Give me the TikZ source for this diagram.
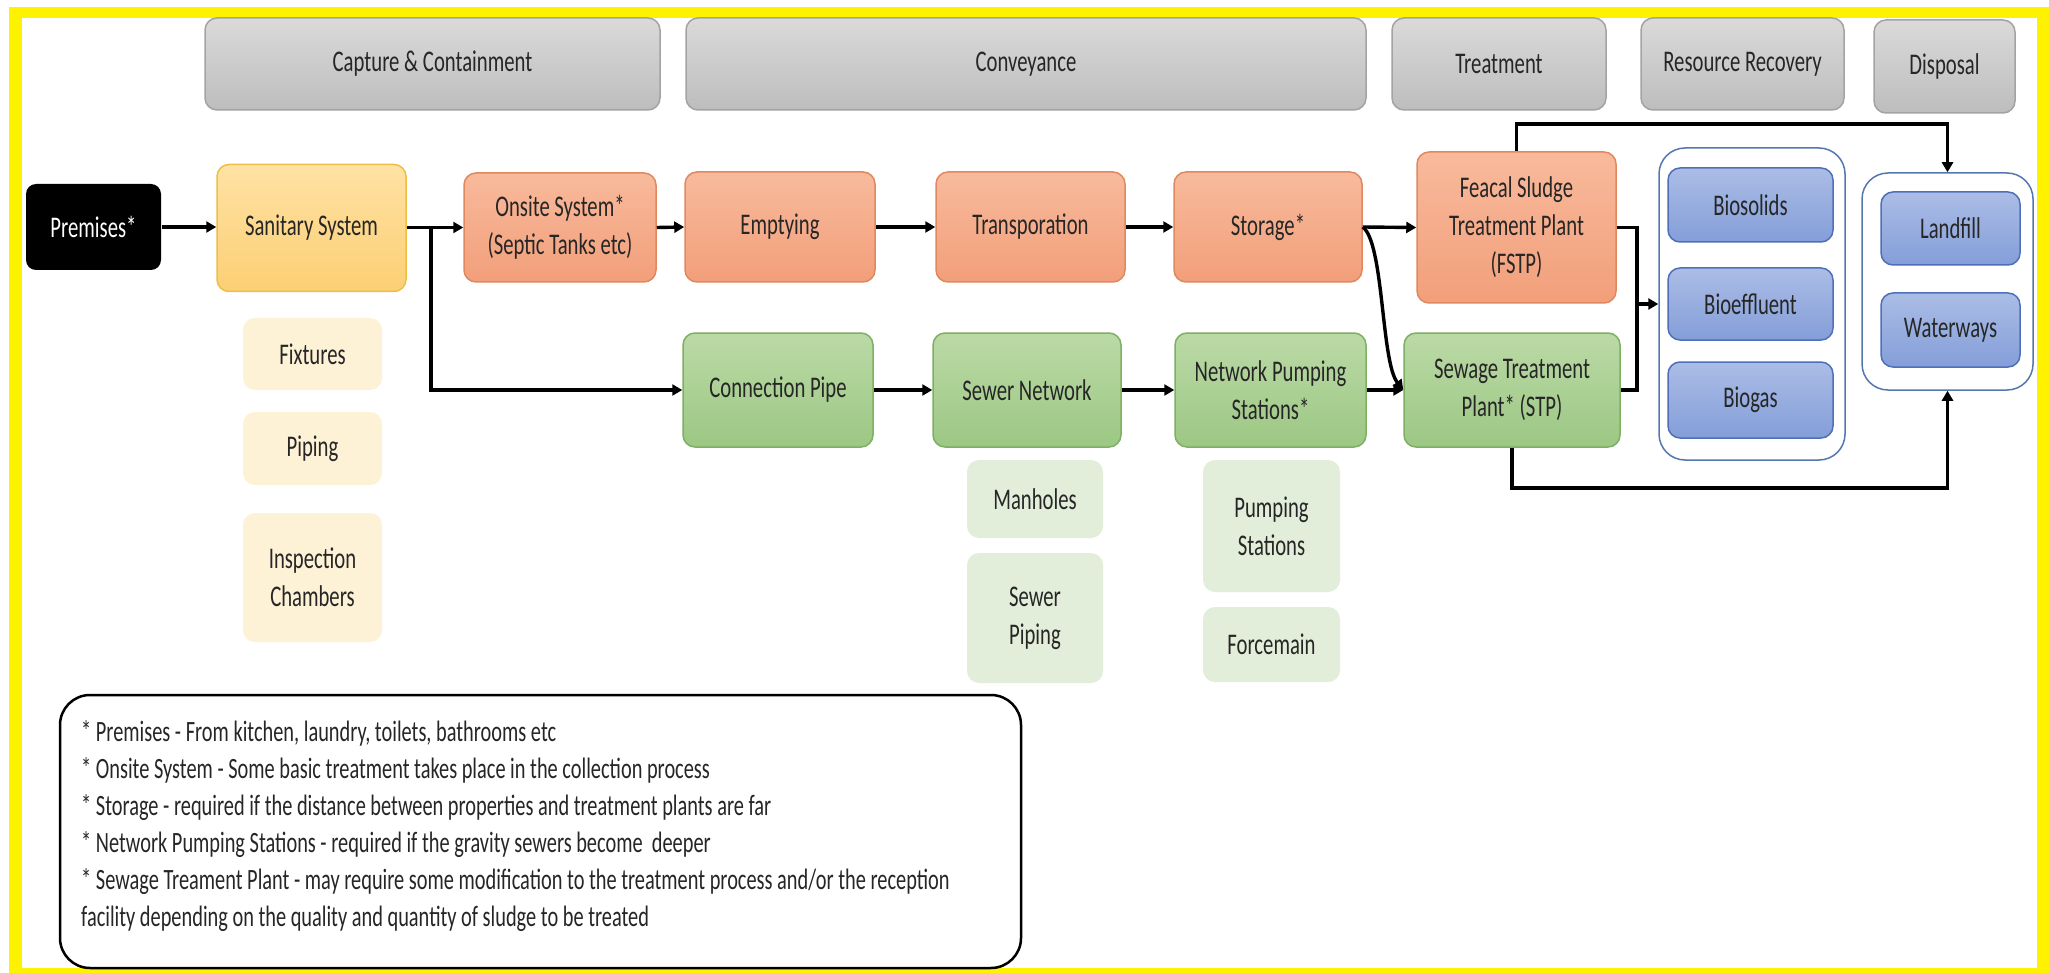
\documentclass[tikz,border=0pt]{standalone}
\usepackage{fontspec}
\setmainfont{Carlito}[FakeStretch=0.69]
\usetikzlibrary{arrows.meta,shadings}
\definecolor{txt}{HTML}{262626}
\definecolor{hdrT}{HTML}{DADADA}
\definecolor{hdrB}{HTML}{BDBDBD}
\definecolor{hdrD}{HTML}{A3A3A3}
\definecolor{sanT}{HTML}{FFE2A4}
\definecolor{sanB}{HTML}{FCCF74}
\definecolor{sanD}{HTML}{EDBE48}
\definecolor{orT}{HTML}{F8BA9C}
\definecolor{orB}{HTML}{F29F7A}
\definecolor{orD}{HTML}{E0885F}
\definecolor{grT}{HTML}{BBDAA6}
\definecolor{grB}{HTML}{9CC784}
\definecolor{grD}{HTML}{7DB062}
\definecolor{blT}{HTML}{ABBDE6}
\definecolor{blB}{HTML}{849ED9}
\definecolor{blD}{HTML}{4F70B8}
\definecolor{subY}{HTML}{FDF1D6}
\definecolor{subG}{HTML}{E2EED9}
\definecolor{cont}{HTML}{5577B0}
\begin{document}
\begin{tikzpicture}[x=1pt,y=-1pt,
  font=\fontsize{30}{38}\selectfont,
  box/.style={rounded corners=12pt, line width=1.5pt, align=center, inner sep=0pt, text=txt},
  hdr/.style={box, draw=hdrD, top color=hdrT, bottom color=hdrB},
  san/.style={box, draw=sanD, top color=sanT, bottom color=sanB},
  orb/.style={box, draw=orD, top color=orT, bottom color=orB},
  grb/.style={box, draw=grD, top color=grT, bottom color=grB},
  blb/.style={box, draw=blD, top color=blT, bottom color=blB},
  suby/.style={box, fill=subY},
  subg/.style={box, fill=subG},
  contbox/.style={draw=cont, line width=1.5pt, rounded corners=26pt, fill=white, inner sep=0pt},
  lnk/.style={line width=3.4pt, draw=black},
  conn/.style={lnk, -{Triangle[length=10pt,width=11pt]}},
  legtxt/.style={anchor=base west, inner sep=0pt, text=txt, font=\fontsize{29.5}{37}\selectfont}
]
\useasboundingbox (0,0) rectangle (2049,973);
\fill[yellow] (9,7) rectangle (2049,973);
\fill[white] (22,18) rectangle (2037,968);

% headers
\node[hdr, minimum width=455pt, minimum height=92pt] (h1) at (432.5,64) {Capture \& Containment};
\node[hdr, minimum width=680pt, minimum height=92pt] (h2) at (1026,64) {Conveyance};
\node[hdr, minimum width=214pt, minimum height=92pt] (h3) at (1499,64) {Treatment};
\node[hdr, minimum width=203pt, minimum height=92pt] (h4) at (1742.5,64) {Resource Recovery};
\node[hdr, minimum width=141pt, minimum height=93pt] (h5) at (1944.5,66.5) {Disposal};

% main row
\node[box, fill=black, text=white, rounded corners=10pt, minimum width=135pt, minimum height=86pt] (prem) at (93.5,227) {Premises*};
\node[san, minimum width=189pt, minimum height=127pt] (sanit) at (311.5,228) {Sanitary System};
\node[orb, minimum width=192pt, minimum height=109pt] (ons) at (560,227.5) {Onsite System*\\(Septic Tanks etc)};
\node[orb, minimum width=190pt, minimum height=110pt] (emp) at (780,227) {Emptying};
\node[orb, minimum width=189pt, minimum height=110pt] (trans) at (1030.5,227) {Transporation};
\node[orb, minimum width=188pt, minimum height=110pt] (stor) at (1268,227) {Storage*};
\node[orb, minimum width=199pt, minimum height=151pt] (fstp) at (1516.5,227.5) {Feacal Sludge\\Treatment Plant\\(FSTP)};

% green row
\node[grb, minimum width=190pt, minimum height=114pt] (con) at (778,390) {Connection Pipe};
\node[grb, minimum width=188pt, minimum height=114pt] (sew) at (1027,390) {Sewer Network};
\node[grb, minimum width=191pt, minimum height=114pt] (nps) at (1270.5,390) {Network Pumping\\Stations*};
\node[grb, minimum width=216pt, minimum height=114pt] (stp) at (1512,390) {Sewage Treatment\\Plant* (STP)};

% sub boxes
\node[suby, minimum width=139pt, minimum height=72pt] (fix) at (312.5,354) {Fixtures};
\node[suby, minimum width=139pt, minimum height=73pt] (pip) at (312.5,448.5) {Piping};
\node[suby, minimum width=139pt, minimum height=129pt] (insp) at (312.5,577.5) {Inspection\\Chambers};
\node[subg, minimum width=136pt, minimum height=78pt] (man) at (1035,499) {Manholes};
\node[subg, minimum width=136pt, minimum height=130pt] (sp) at (1035,618) {Sewer\\Piping};
\node[subg, minimum width=137pt, minimum height=132pt] (ps) at (1271.5,526) {Pumping\\Stations};
\node[subg, minimum width=137pt, minimum height=75pt] (fm) at (1271.5,644.5) {Forcemain};

% containers
\node[contbox, minimum width=186pt, minimum height=312pt] (rr) at (1752,304) {};
\node[blb, minimum width=165pt, minimum height=74pt] (bios) at (1750.5,205) {Biosolids};
\node[blb, minimum width=165pt, minimum height=72pt] (bioe) at (1750.5,304) {Bioeffluent};
\node[blb, minimum width=165pt, minimum height=76pt] (biog) at (1750.5,400) {Biogas};
\node[contbox, minimum width=171pt, minimum height=217pt] (dc) at (1947.5,281.5) {};
\node[blb, minimum width=139pt, minimum height=73pt] (land) at (1950.5,228.5) {Landfill};
\node[blb, minimum width=139pt, minimum height=74pt] (water) at (1950.5,330) {Waterways};

% connectors
\coordinate (br) at (431,227);
\draw[conn] (prem.east) -- (prem.east -| sanit.west);
\draw[conn] (sanit.east |- ons.west) -- (ons.west);
\draw[conn] (br) |- (con.west);
\draw[conn] (ons.east) -- (emp.west);
\draw[conn] (emp.east) -- (trans.west);
\draw[conn] (trans.east) -- (stor.west);
\draw[conn] (stor.east) -- (fstp.west);
\draw[conn] (stor.east) .. controls (1384,243) and (1381,362) .. (stp.west);
\draw[conn] (con.east) -- (sew.west);
\draw[conn] (sew.east) -- (nps.west);
\draw[conn] (nps.east) -- (stp.west);
\coordinate (j) at (1637,304);
\draw[lnk] (fstp.east) -| (j);
\draw[lnk] (stp.east) -| (j);
\draw[conn] (j) -- (rr.west);
\coordinate (t1) at (1516.5,124);
\draw[conn] (fstp.north) -- (t1) -| (dc.north);
\coordinate (b1) at (1512,488);
\draw[conn] (stp.south) -- (b1) -| (dc.south);

% legend
\node[draw=black, line width=2.5pt, rounded corners=30pt, minimum width=961pt, minimum height=273pt, inner sep=0pt] (leg) at (540.5,831.5) {};
\node[legtxt] (l1) at (81,741) {* Premises - From kitchen, laundry, toilets, bathrooms etc};
\node[legtxt] (l2) at (81,778) {* Onsite System - Some basic treatment takes place in the collection process};
\node[legtxt] (l3) at (81,815) {* Storage - required if the distance between properties and treatment plants are far};
\node[legtxt] (l4) at (81,852) {* Network Pumping Stations - required if the gravity sewers become~ deeper};
\node[legtxt] (l5) at (81,889) {* Sewage Treament Plant - may require some modification to the treatment process and/or the reception};
\node[legtxt] (l6) at (81,926) {facility depending on the quality and quantity of sludge to be treated};
\end{tikzpicture}
\end{document}
